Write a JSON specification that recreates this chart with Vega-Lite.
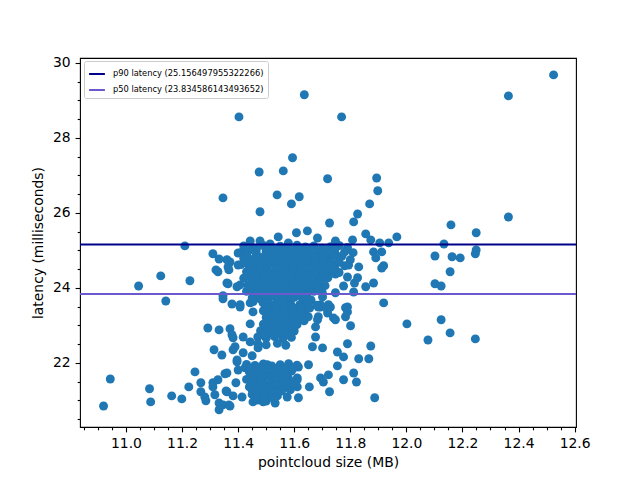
{
"$schema": "https://vega.github.io/schema/vega-lite/v6.json",
"width": 496,
"height": 369,
"autosize": {"type": "none"},
"padding": {"left": 80, "top": 58, "right": 64, "bottom": 53},
"background": "white",
"config": {
  "view": {"stroke": "black", "strokeWidth": 1.1},
  "font": "DejaVu Sans",
  "axis": {"domain": false, "grid": false, "tickColor": "black", "tickWidth": 1.1, "tickSize": 4.9, "labelFont": "DejaVu Sans", "labelFontSize": 13.9, "labelColor": "black", "labelPadding": 4.9, "titleFont": "DejaVu Sans", "titleFontSize": 13.9, "titleFontWeight": "normal", "titleColor": "black", "labelOverlap": false, "labelFlush": false, "labelBound": false}
},
"datasets": {
"pts": [
{"size":10.920,"latency":20.85},{"size":10.944,"latency":21.57},{"size":11.045,"latency":24.05},{"size":11.084,"latency":21.31},{"size":11.088,"latency":20.96},{"size":11.124,"latency":24.32},{"size":11.142,"latency":23.65},{"size":11.210,"latency":25.12},{"size":11.228,"latency":24.19},{"size":11.163,"latency":21.12},{"size":11.199,"latency":21.04},{"size":11.224,"latency":21.36},{"size":11.246,"latency":21.76},{"size":11.267,"latency":21.47},{"size":11.267,"latency":21.23},{"size":11.285,"latency":20.99},{"size":11.310,"latency":21.36},{"size":11.317,"latency":21.15},{"size":11.332,"latency":20.75},{"size":11.332,"latency":20.93},{"size":11.353,"latency":21.71},{"size":11.360,"latency":21.23},{"size":11.292,"latency":22.93},{"size":11.332,"latency":22.88},{"size":11.314,"latency":22.35},{"size":11.342,"latency":22.21},{"size":11.310,"latency":24.91},{"size":11.332,"latency":24.77},{"size":11.321,"latency":24.48},{"size":11.328,"latency":24.43},{"size":11.360,"latency":24.13},{"size":11.346,"latency":23.79},{"size":11.346,"latency":23.71},
{"size":11.594,"latency":27.47},{"size":11.475,"latency":27.09},{"size":11.561,"latency":27.12},{"size":11.719,"latency":26.91},{"size":11.894,"latency":26.93},{"size":11.346,"latency":26.40},{"size":11.539,"latency":26.48},{"size":11.618,"latency":26.43},{"size":11.590,"latency":26.24},{"size":11.898,"latency":26.59},{"size":11.869,"latency":26.24},{"size":11.478,"latency":26.03},{"size":11.826,"latency":25.97},{"size":11.812,"latency":25.76},{"size":11.726,"latency":25.73},{"size":11.636,"latency":29.15},{"size":11.403,"latency":28.56},{"size":11.769,"latency":28.56},{"size":12.525,"latency":29.68},{"size":12.364,"latency":29.12},{"size":12.364,"latency":25.89},
{"size":12.159,"latency":25.68},{"size":12.249,"latency":25.47},{"size":11.966,"latency":25.36},{"size":11.937,"latency":25.20},{"size":12.134,"latency":25.17},{"size":11.912,"latency":24.96},{"size":12.102,"latency":24.85},{"size":12.163,"latency":24.83},{"size":12.192,"latency":24.80},{"size":12.249,"latency":25.01},{"size":12.246,"latency":24.91},{"size":11.919,"latency":24.59},{"size":11.912,"latency":24.53},{"size":12.156,"latency":24.43},{"size":12.102,"latency":24.11},{"size":12.124,"latency":24.05},{"size":11.919,"latency":23.60},{"size":12.002,"latency":23.04},{"size":12.124,"latency":23.15},{"size":12.156,"latency":22.80},{"size":12.077,"latency":22.61},{"size":12.246,"latency":22.64},
{"size":11.364,"latency":24.11},{"size":11.378,"latency":23.57},{"size":11.407,"latency":23.49},{"size":11.443,"latency":23.60},{"size":11.453,"latency":23.36},{"size":11.371,"latency":22.91},{"size":11.382,"latency":22.67},{"size":11.418,"latency":22.69},{"size":11.443,"latency":23.04},{"size":11.443,"latency":22.56},{"size":11.382,"latency":22.35},{"size":11.418,"latency":22.27},{"size":11.450,"latency":22.19},{"size":11.471,"latency":22.40},{"size":11.396,"latency":22.03},{"size":11.400,"latency":21.81},{"size":11.425,"latency":21.87},{"size":11.468,"latency":21.81},{"size":11.504,"latency":21.95},{"size":11.310,"latency":21.47},{"size":11.328,"latency":21.55},{"size":11.357,"latency":21.25},{"size":11.392,"latency":21.47},{"size":11.281,"latency":21.09},{"size":11.367,"latency":20.88},{"size":11.382,"latency":21.12},{"size":11.414,"latency":21.09},{"size":11.450,"latency":21.28},{"size":11.453,"latency":20.96},{"size":11.489,"latency":21.09},{"size":11.489,"latency":20.96},{"size":11.532,"latency":20.93},{"size":11.478,"latency":21.55},{"size":11.514,"latency":21.36},{"size":11.478,"latency":21.36},{"size":11.550,"latency":21.36},{"size":11.561,"latency":21.63},{"size":11.550,"latency":21.89},{"size":11.575,"latency":21.09},{"size":11.586,"latency":21.28},{"size":11.615,"latency":21.07},{"size":11.615,"latency":21.89},{"size":11.611,"latency":21.60},{"size":11.611,"latency":21.36},{"size":11.654,"latency":21.36},{"size":11.651,"latency":21.95},{"size":11.676,"latency":22.69},{"size":11.701,"latency":22.40},{"size":11.665,"latency":22.43},{"size":11.694,"latency":21.60},{"size":11.726,"latency":21.23},{"size":11.704,"latency":21.49},{"size":11.754,"latency":22.29},{"size":11.776,"latency":22.16},{"size":11.754,"latency":21.92},{"size":11.776,"latency":21.55},{"size":11.790,"latency":22.51},{"size":11.812,"latency":21.73},{"size":11.822,"latency":21.49},{"size":11.830,"latency":22.11},{"size":11.866,"latency":22.11},{"size":11.873,"latency":22.45},{"size":11.887,"latency":21.07},{"size":11.676,"latency":22.96},{"size":11.683,"latency":23.15},{"size":11.719,"latency":23.33},{"size":11.740,"latency":23.20},{"size":11.783,"latency":23.23},{"size":11.801,"latency":22.99},{"size":11.783,"latency":23.47},{"size":11.729,"latency":23.49},{"size":11.694,"latency":23.49},
{"size":11.647,"latency":25.52},{"size":11.608,"latency":25.47},{"size":11.543,"latency":25.36},{"size":11.443,"latency":25.25},{"size":11.478,"latency":25.25},{"size":11.514,"latency":25.17},{"size":11.579,"latency":25.20},{"size":11.683,"latency":25.33},{"size":11.747,"latency":25.25},{"size":11.808,"latency":25.28},{"size":11.855,"latency":25.44},{"size":11.873,"latency":25.28},{"size":11.905,"latency":25.20},{"size":11.371,"latency":24.69},{"size":11.364,"latency":24.56},{"size":11.414,"latency":24.96},{"size":11.400,"latency":24.61},{"size":11.407,"latency":24.08},{"size":11.435,"latency":24.08},{"size":11.407,"latency":23.55},{"size":11.453,"latency":23.63},{"size":11.883,"latency":24.96},{"size":11.891,"latency":24.80},{"size":11.830,"latency":24.56},{"size":11.794,"latency":24.61},{"size":11.747,"latency":24.37},{"size":11.790,"latency":24.29},{"size":11.776,"latency":24.05},{"size":11.815,"latency":24.13},{"size":11.826,"latency":24.27},{"size":11.855,"latency":24.03},{"size":11.883,"latency":24.13},{"size":11.812,"latency":23.89},{"size":11.747,"latency":23.87},{"size":11.701,"latency":23.76},{"size":11.790,"latency":23.49},{"size":11.722,"latency":23.55},{"size":11.686,"latency":23.49},{"size":11.651,"latency":23.68},{"size":11.586,"latency":23.60},{"size":11.525,"latency":23.55},{"size":11.489,"latency":23.60},{"size":11.396,"latency":24.03},
{"size":11.686,"latency":23.23},{"size":11.719,"latency":23.41},{"size":11.747,"latency":23.15},{"size":11.790,"latency":23.36},{"size":11.694,"latency":23.55},{"size":11.378,"latency":22.75},{"size":11.389,"latency":22.43},{"size":11.360,"latency":21.73},{"size":11.396,"latency":22.08},{"size":11.346,"latency":20.88},{"size":11.371,"latency":20.85},{"size":11.722,"latency":21.68},{"size":11.360,"latency":24.75},{"size":11.367,"latency":24.48},
{"size":11.42,"latency":25.12},{"size":11.45,"latency":25.08},{"size":11.49,"latency":25.13},{"size":11.52,"latency":25.07},{"size":11.55,"latency":25.11},{"size":11.58,"latency":25.06},{"size":11.61,"latency":25.14},{"size":11.64,"latency":25.09},{"size":11.67,"latency":25.12},{"size":11.70,"latency":25.06},{"size":11.73,"latency":25.10},{"size":11.76,"latency":25.13},{"size":11.79,"latency":25.08},
{"size":11.40,"latency":24.93},{"size":11.435,"latency":24.97},{"size":11.465,"latency":24.92},{"size":11.50,"latency":24.98},{"size":11.535,"latency":24.94},{"size":11.565,"latency":24.96},{"size":11.595,"latency":24.91},{"size":11.625,"latency":24.97},{"size":11.655,"latency":24.93},{"size":11.685,"latency":24.95},{"size":11.715,"latency":24.99},{"size":11.745,"latency":24.92},{"size":11.78,"latency":24.96},{"size":11.81,"latency":24.94},
{"size":11.42,"latency":24.79},{"size":11.45,"latency":24.76},{"size":11.48,"latency":24.80},{"size":11.51,"latency":24.75},{"size":11.54,"latency":24.78},{"size":11.57,"latency":24.81},{"size":11.60,"latency":24.77},{"size":11.63,"latency":24.74},{"size":11.66,"latency":24.79},{"size":11.69,"latency":24.76},{"size":11.72,"latency":24.80},{"size":11.76,"latency":24.77},{"size":11.80,"latency":24.75},
{"size":11.41,"latency":24.62},{"size":11.44,"latency":24.58},{"size":11.47,"latency":24.61},{"size":11.50,"latency":24.57},{"size":11.53,"latency":24.63},{"size":11.56,"latency":24.59},{"size":11.59,"latency":24.62},{"size":11.62,"latency":24.58},{"size":11.65,"latency":24.61},{"size":11.68,"latency":24.56},{"size":11.71,"latency":24.60},{"size":11.74,"latency":24.63},{"size":11.78,"latency":24.59},
{"size":11.43,"latency":24.43},{"size":11.46,"latency":24.40},{"size":11.49,"latency":24.44},{"size":11.52,"latency":24.39},{"size":11.55,"latency":24.42},{"size":11.58,"latency":24.45},{"size":11.61,"latency":24.41},{"size":11.64,"latency":24.38},{"size":11.67,"latency":24.43},{"size":11.70,"latency":24.40},{"size":11.73,"latency":24.44},{"size":11.76,"latency":24.41},
{"size":11.42,"latency":24.26},{"size":11.45,"latency":24.23},{"size":11.48,"latency":24.27},{"size":11.51,"latency":24.22},{"size":11.54,"latency":24.25},{"size":11.57,"latency":24.28},{"size":11.60,"latency":24.24},{"size":11.63,"latency":24.21},{"size":11.66,"latency":24.26},{"size":11.69,"latency":24.23},{"size":11.72,"latency":24.27},
{"size":11.44,"latency":24.09},{"size":11.47,"latency":24.06},{"size":11.50,"latency":24.10},{"size":11.53,"latency":24.05},{"size":11.56,"latency":24.08},{"size":11.59,"latency":24.11},{"size":11.62,"latency":24.07},{"size":11.65,"latency":24.04},{"size":11.68,"latency":24.09},{"size":11.71,"latency":24.06},
{"size":11.43,"latency":23.91},{"size":11.46,"latency":23.88},{"size":11.49,"latency":23.92},{"size":11.52,"latency":23.87},{"size":11.55,"latency":23.90},{"size":11.58,"latency":23.93},{"size":11.61,"latency":23.89},{"size":11.64,"latency":23.86},{"size":11.67,"latency":23.91},{"size":11.70,"latency":23.88},
{"size":11.45,"latency":23.73},{"size":11.48,"latency":23.70},{"size":11.51,"latency":23.74},{"size":11.54,"latency":23.69},{"size":11.57,"latency":23.72},{"size":11.60,"latency":23.75},{"size":11.63,"latency":23.71},{"size":11.66,"latency":23.68},
{"size":11.50,"latency":23.56},{"size":11.53,"latency":23.53},{"size":11.56,"latency":23.57},{"size":11.59,"latency":23.52},{"size":11.62,"latency":23.55},{"size":11.65,"latency":23.58},{"size":11.68,"latency":23.54},
{"size":11.49,"latency":23.39},{"size":11.52,"latency":23.36},{"size":11.55,"latency":23.40},{"size":11.58,"latency":23.35},{"size":11.61,"latency":23.38},{"size":11.64,"latency":23.41},
{"size":11.50,"latency":23.21},{"size":11.53,"latency":23.18},{"size":11.56,"latency":23.22},{"size":11.59,"latency":23.17},{"size":11.62,"latency":23.20},{"size":11.65,"latency":23.23},
{"size":11.49,"latency":23.03},{"size":11.52,"latency":23.00},{"size":11.55,"latency":23.04},{"size":11.58,"latency":22.99},{"size":11.61,"latency":23.02},
{"size":11.48,"latency":22.86},{"size":11.51,"latency":22.83},{"size":11.54,"latency":22.87},{"size":11.57,"latency":22.82},{"size":11.60,"latency":22.85},
{"size":11.47,"latency":22.69},{"size":11.50,"latency":22.66},{"size":11.53,"latency":22.70},{"size":11.56,"latency":22.65},{"size":11.59,"latency":22.68},
{"size":11.47,"latency":22.51},{"size":11.50,"latency":22.48},{"size":11.54,"latency":22.52},{"size":11.57,"latency":22.47},
{"size":11.43,"latency":21.96},{"size":11.46,"latency":21.93},{"size":11.49,"latency":21.97},{"size":11.52,"latency":21.92},{"size":11.55,"latency":21.95},{"size":11.58,"latency":21.98},{"size":11.61,"latency":21.94},
{"size":11.44,"latency":21.76},{"size":11.47,"latency":21.73},{"size":11.50,"latency":21.77},{"size":11.53,"latency":21.72},{"size":11.56,"latency":21.75},{"size":11.59,"latency":21.78},
{"size":11.43,"latency":21.56},{"size":11.46,"latency":21.53},{"size":11.49,"latency":21.57},{"size":11.52,"latency":21.52},{"size":11.55,"latency":21.55},{"size":11.58,"latency":21.58},{"size":11.61,"latency":21.54},
{"size":11.44,"latency":21.36},{"size":11.47,"latency":21.33},{"size":11.50,"latency":21.37},{"size":11.53,"latency":21.32},{"size":11.56,"latency":21.35},
{"size":11.45,"latency":21.16},{"size":11.48,"latency":21.13},{"size":11.51,"latency":21.17},{"size":11.54,"latency":21.12},
{"size":11.47,"latency":21.01},{"size":11.50,"latency":20.98},
{"size":11.435,"latency":25.02},{"size":11.465,"latency":25.03},{"size":11.505,"latency":25.01},{"size":11.535,"latency":25.02},{"size":11.565,"latency":25.03},{"size":11.595,"latency":25.01},{"size":11.625,"latency":25.02},{"size":11.655,"latency":25.03},{"size":11.685,"latency":25.01},{"size":11.715,"latency":25.02},{"size":11.745,"latency":25.03},
{"size":11.43,"latency":24.86},{"size":11.465,"latency":24.87},{"size":11.495,"latency":24.85},{"size":11.525,"latency":24.86},{"size":11.555,"latency":24.87},{"size":11.585,"latency":24.85},{"size":11.615,"latency":24.86},{"size":11.645,"latency":24.87},{"size":11.675,"latency":24.85},{"size":11.705,"latency":24.86},{"size":11.74,"latency":24.87},{"size":11.77,"latency":24.85},
{"size":11.425,"latency":24.69},{"size":11.455,"latency":24.70},{"size":11.49,"latency":24.68},{"size":11.52,"latency":24.69},{"size":11.55,"latency":24.70},{"size":11.58,"latency":24.68},{"size":11.61,"latency":24.69},{"size":11.64,"latency":24.70},{"size":11.67,"latency":24.68},{"size":11.70,"latency":24.69},{"size":11.73,"latency":24.70},{"size":11.76,"latency":24.68},
{"size":11.445,"latency":24.51},{"size":11.475,"latency":24.52},{"size":11.505,"latency":24.50},{"size":11.535,"latency":24.51},{"size":11.565,"latency":24.52},{"size":11.595,"latency":24.50},{"size":11.625,"latency":24.51},{"size":11.655,"latency":24.52},{"size":11.685,"latency":24.50},{"size":11.715,"latency":24.51},{"size":11.745,"latency":24.52},
{"size":11.435,"latency":24.34},{"size":11.465,"latency":24.35},{"size":11.495,"latency":24.33},{"size":11.525,"latency":24.34},{"size":11.555,"latency":24.35},{"size":11.585,"latency":24.33},{"size":11.615,"latency":24.34},{"size":11.645,"latency":24.35},{"size":11.675,"latency":24.33},{"size":11.705,"latency":24.34},
{"size":11.455,"latency":24.17},{"size":11.485,"latency":24.18},{"size":11.515,"latency":24.16},{"size":11.545,"latency":24.17},{"size":11.575,"latency":24.18},{"size":11.605,"latency":24.16},{"size":11.635,"latency":24.17},{"size":11.665,"latency":24.18},{"size":11.695,"latency":24.16},
{"size":11.445,"latency":23.99},{"size":11.475,"latency":24.00},{"size":11.505,"latency":23.98},{"size":11.535,"latency":23.99},{"size":11.565,"latency":24.00},{"size":11.595,"latency":23.98},{"size":11.625,"latency":23.99},{"size":11.655,"latency":24.00},{"size":11.685,"latency":23.98},
{"size":11.465,"latency":23.81},{"size":11.495,"latency":23.82},{"size":11.525,"latency":23.80},{"size":11.555,"latency":23.81},{"size":11.585,"latency":23.82},{"size":11.615,"latency":23.80},{"size":11.645,"latency":23.81},
{"size":11.505,"latency":23.47},{"size":11.535,"latency":23.48},{"size":11.565,"latency":23.46},{"size":11.595,"latency":23.47},{"size":11.625,"latency":23.48},{"size":11.655,"latency":23.46},
{"size":11.505,"latency":23.29},{"size":11.535,"latency":23.30},{"size":11.565,"latency":23.28},{"size":11.595,"latency":23.29},{"size":11.625,"latency":23.30},
{"size":11.515,"latency":23.11},{"size":11.545,"latency":23.12},{"size":11.575,"latency":23.10},{"size":11.605,"latency":23.11},{"size":11.635,"latency":23.12},
{"size":11.505,"latency":22.94},{"size":11.535,"latency":22.95},{"size":11.565,"latency":22.93},{"size":11.595,"latency":22.94},
{"size":11.495,"latency":22.77},{"size":11.525,"latency":22.78},{"size":11.555,"latency":22.76},{"size":11.585,"latency":22.77},
{"size":11.445,"latency":21.85},{"size":11.475,"latency":21.86},{"size":11.505,"latency":21.84},{"size":11.535,"latency":21.85},{"size":11.565,"latency":21.86},{"size":11.595,"latency":21.84},
{"size":11.455,"latency":21.65},{"size":11.485,"latency":21.66},{"size":11.515,"latency":21.64},{"size":11.545,"latency":21.65},{"size":11.575,"latency":21.66},
{"size":11.455,"latency":21.45},{"size":11.485,"latency":21.46},{"size":11.515,"latency":21.44},{"size":11.545,"latency":21.45},{"size":11.575,"latency":21.46},{"size":11.60,"latency":21.44},
{"size":11.465,"latency":21.25},{"size":11.495,"latency":21.26},{"size":11.525,"latency":21.24},{"size":11.555,"latency":21.25},
{"size":11.465,"latency":21.07},{"size":11.495,"latency":21.08},{"size":11.525,"latency":21.06}
],
"lines": [
{"label": "p90 latency (25.156497955322266)", "latency": 25.156497955322266},
{"label": "p50 latency (23.834586143493652)", "latency": 23.834586143493652}
]
},
"layer": [
{
  "data": {"name": "pts"},
  "mark": {"type": "point", "filled": true, "size": 80, "color": "#1f77b4", "opacity": 1},
  "encoding": {
    "x": {"field": "size", "type": "quantitative", "title": "pointcloud size (MB)",
      "scale": {"domain": [10.836, 12.605], "nice": false, "zero": false},
      "axis": {"orient": "bottom", "values": [11, 11.2, 11.4, 11.6, 11.8, 12, 12.2, 12.4, 12.6], "format": ".1f", "titlePadding": 5}},
    "y": {"field": "latency", "type": "quantitative", "title": "latency (milliseconds)",
      "scale": {"domain": [20.29, 30.13], "nice": false, "zero": false},
      "axis": {"orient": "left", "values": [22, 24, 26, 28, 30], "format": "d", "titlePadding": 7}}
  }
},
{
  "data": {"name": "lines"},
  "mark": {"type": "rule", "strokeWidth": 2},
  "encoding": {
    "y": {"field": "latency", "type": "quantitative", "axis": null},
    "color": {"field": "label", "type": "nominal",
      "scale": {"domain": ["p90 latency (25.156497955322266)", "p50 latency (23.834586143493652)"], "range": ["#00008b", "#6a5acd"]},
      "legend": {"orient": "none", "legendX": 4, "legendY": 3, "title": null, "labelFont": "DejaVu Sans", "labelFontSize": 8.3, "labelColor": "black", "symbolType": "stroke", "symbolStrokeWidth": 2, "symbolSize": 250, "strokeColor": "#cccccc", "fillColor": "white", "padding": 4, "cornerRadius": 2, "rowPadding": 3, "labelOffset": 7}}
  }
},
{
  "data": {"name": "pts"},
  "mark": {"type": "point", "opacity": 0},
  "encoding": {
    "x": {"field": "size", "type": "quantitative",
      "axis": {"orient": "bottom", "title": null, "labels": false, "tickSize": 2.8, "values": [10.85, 10.9, 10.95, 11.05, 11.1, 11.15, 11.25, 11.3, 11.35, 11.45, 11.5, 11.55, 11.65, 11.7, 11.75, 11.85, 11.9, 11.95, 12.05, 12.1, 12.15, 12.25, 12.3, 12.35, 12.45, 12.5, 12.55]}},
    "y": {"field": "latency", "type": "quantitative",
      "axis": {"orient": "left", "title": null, "labels": false, "tickSize": 2.8, "values": [20.5, 21, 21.5, 22.5, 23, 23.5, 24.5, 25, 25.5, 26.5, 27, 27.5, 28.5, 29, 29.5]}}
  }
}
],
"resolve": {"axis": {"x": "independent", "y": "independent"}}
}
